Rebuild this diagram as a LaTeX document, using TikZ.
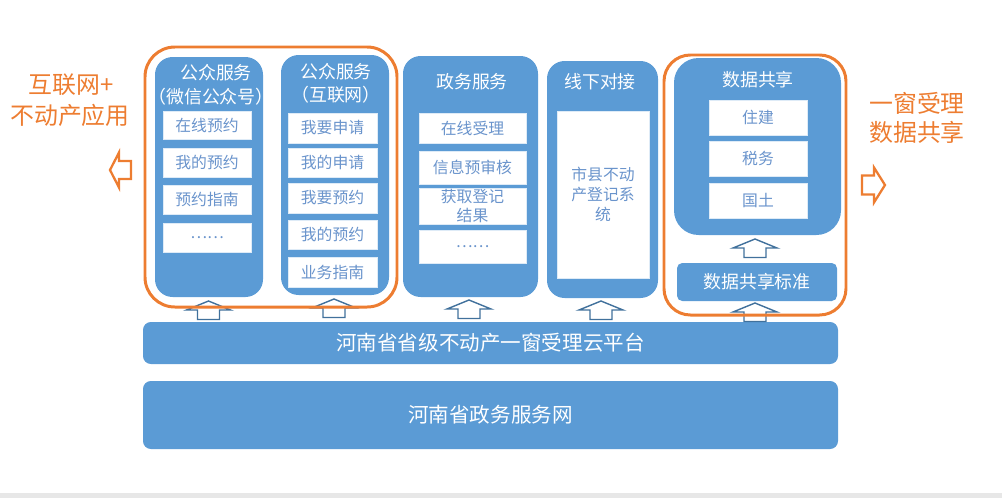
\documentclass[tikz,border=0pt]{standalone}
\usepackage{fontspec}
\newfontfamily\cjk{Noto Sans CJK SC}
\usetikzlibrary{fit}
\definecolor{boxblue}{HTML}{5B9BD5}
\definecolor{hlorange}{HTML}{ED7D31}
\definecolor{arrblue}{HTML}{41719C}
\definecolor{itemtext}{HTML}{6A94CC}
\definecolor{stripgray}{HTML}{E7E7E7}
\tikzset{
  col/.style={fill=boxblue, rounded corners=10pt, inner sep=0pt},
  item/.style={fill=white, draw=white!80!boxblue, line width=0.4pt, inner sep=0pt},
  itemlbl/.style={text=itemtext, font=\cjk\fontsize{9}{11.3}\selectfont, align=center, inner sep=0pt},
  ttl/.style={text=white, font=\cjk\fontsize{10.2}{12}\selectfont, inner sep=0pt},
  base/.style={fill=boxblue, rounded corners=4.5pt, inner sep=0pt},
  baselbl/.style={text=white, font=\cjk\fontsize{11.7}{14}\selectfont, inner sep=0pt},
  hl/.style={draw=hlorange, line width=1.7pt, rounded corners=17pt, inner sep=0pt},
  side/.style={text=hlorange, font=\cjk\fontsize{13.6}{16}\selectfont, inner sep=0pt},
  uparr/.style={draw=arrblue, fill=white, line width=0.8pt},
  sidearr/.style={draw=hlorange, fill=white, line width=1.3pt},
}
\newcommand{\hollowup}[2]{\draw[uparr] (#1,#2) -- ++(22,9) -- ++(-11,0) -- ++(0,9.5) -- ++(-22,0) -- ++(0,-9.5) -- ++(-11,0) -- cycle;}

\begin{document}
\begin{tikzpicture}[x=0.02cm, y=-0.02cm]
   \useasboundingbox (0,0) rectangle (1002,498);
   \fill[stripgray] (0,493) rectangle (1002,498);

   \node[col, fit={(155,57) (263,297)}] (wechat) {};
   \node[ttl] (wechatt) at (216,73) {公众服务};
   \node[ttl] (wechatu) at (211,97) {（微信公众号）};
   \node[item, fit={(163,111) (251,139)}, label={[itemlbl]center:在线预约}] (wa) {};
   \node[item, fit={(163,148) (251,177)}, label={[itemlbl]center:我的预约}] (wb) {};
   \node[item, fit={(163,185) (251,214)}, label={[itemlbl]center:预约指南}] (wc) {};
   \node[item, fit={(163,223) (251,252)}, label={[itemlbl]center:……}] (wd) {};

   \node[col, fit={(281,55) (389,295)}] (web) {};
   \node[ttl] (webt) at (336,72) {公众服务};
   \node[ttl] (webu) at (336,95) {（互联网）};
   \node[item, fit={(288,113) (377,143)}, label={[itemlbl]center:我要申请}] (na) {};
   \node[item, fit={(288,148) (377,177)}, label={[itemlbl]center:我的申请}] (nb) {};
   \node[item, fit={(288,183) (377,213)}, label={[itemlbl]center:我要预约}] (nc) {};
   \node[item, fit={(288,220) (377,249)}, label={[itemlbl]center:我的预约}] (nd) {};
   \node[item, fit={(288,257) (377,287)}, label={[itemlbl]center:业务指南}] (ne) {};

   \node[col, fit={(403,56) (538,297)}] (gov) {};
   \node[ttl] (govt) at (472,82) {政务服务};
   \node[item, fit={(419,113) (526,143)}, label={[itemlbl]center:在线受理}] (ga) {};
   \node[item, fit={(419,151) (526,184)}, label={[itemlbl]center:信息预审核}] (gb) {};
   \node[item, fit={(419,188) (526,224)}, label={[itemlbl]center:获取登记\\结果}] (gc) {};
   \node[item, fit={(419,230) (526,263)}, label={[itemlbl]center:……}] (gd) {};

   \node[col, fit={(547,61) (658,298)}] (off) {};
   \node[ttl] (offt) at (600,82) {线下对接};
   \node[item, fit={(557,111) (649,278)}, label={[itemlbl]center:市县不动\\产登记系\\统}] (oa) {};

   \node[col, rounded corners=14pt, fit={(674,58) (841,235)}] (share) {};
   \node[ttl] (sharet) at (758,80) {数据共享};
   \node[item, fit={(709,100) (807,135)}, label={[itemlbl]center:住建}] (sa) {};
   \node[item, fit={(709,141) (807,176)}, label={[itemlbl]center:税务}] (sb) {};
   \node[item, fit={(709,183) (807,218)}, label={[itemlbl]center:国土}] (sc) {};
   \node[base, rounded corners=3pt, fit={(677,263) (837,301)}, label={[ttl]center:数据共享标准}] (std) {};

   \node[base, fit={(143,322) (838,364)}, label={[baselbl]center:河南省省级不动产一窗受理云平台}] (cloud) {};
   \node[base, fit={(143,381) (838,449)}, label={[baselbl]center:河南省政务服务网}] (net) {};

   \hollowup{208.5}{301}
   \hollowup{334}{299}
   \hollowup{469}{300}
   \hollowup{601}{301}
   \hollowup{755}{303}
   \hollowup{755}{239}

   \node[hl, fit={(145,47) (397,307)}] (pubhl) {};
   \node[hl, rounded corners=15pt, fit={(664,55) (846,315)}] (sharehl) {};

   \node[side] (lefta) at (71,85) {互联网+};
   \node[side] (leftb) at (70,115) {不动产应用};
   \node[side] (righta) at (917,103) {一窗受理};
   \node[side] (rightb) at (917,132) {数据共享};

   \draw[sidearr] (110,170) -- (119,152.5) -- (119,161) -- (131,161) -- (131,179) -- (119,179) -- (119,187.5) -- cycle;
   \draw[sidearr] (885,185) -- (874,167.5) -- (874,175.5) -- (862,175.5) -- (862,194.5) -- (874,194.5) -- (874,202.5) -- cycle;
\end{tikzpicture}
\end{document}
